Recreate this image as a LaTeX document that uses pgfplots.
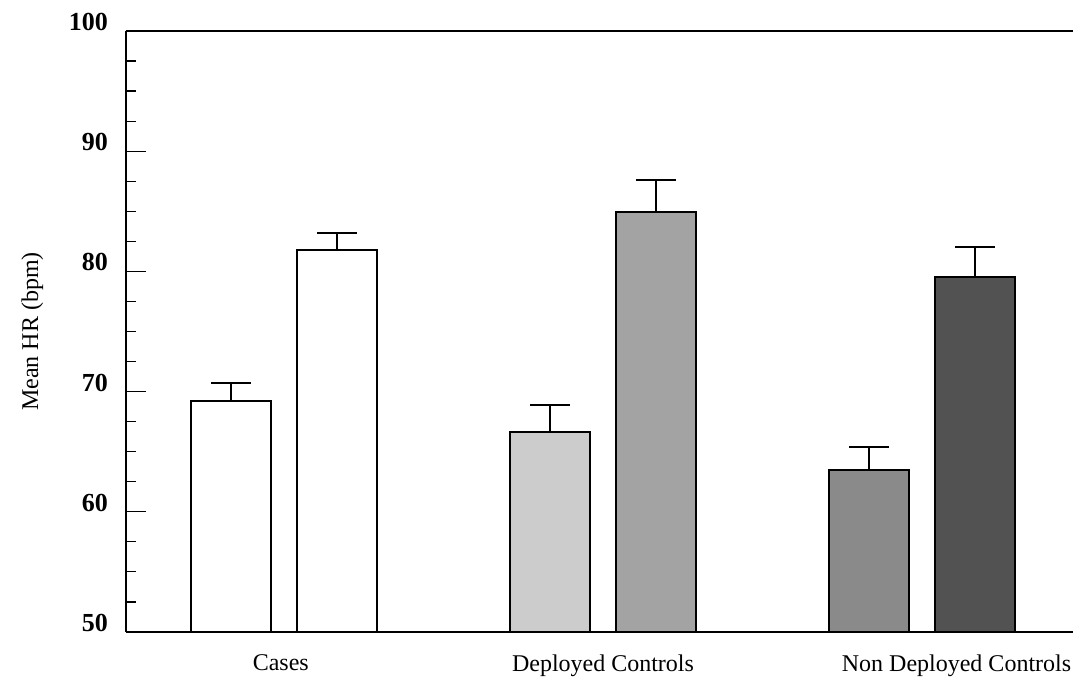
\documentclass[border=0pt]{standalone}
\usepackage{pgfplots}
\pgfplotsset{compat=1.18}
\usepackage{fontspec}
\setmainfont{Liberation Serif}
\definecolor{barA}{gray}{1.0}
\definecolor{barB}{gray}{0.80}
\definecolor{barC}{gray}{0.64}
\definecolor{barD}{gray}{0.54}
\definecolor{barE}{gray}{0.32}
\begin{document}
\begin{tikzpicture}
\begin{axis}[
  name=ax,
  scale only axis,
  width=473.5pt, height=300.5pt,
  xmin=-0.495, xmax=2.473,
  ymin=50, ymax=100,
  axis x line*=box,
  axis y line*=left,
  ytick={50,60,70,80,90,100},
  minor y tick num=3,
  ytick pos=left,
  tick align=inside,
  major tick length=10pt,
  minor tick length=5pt,
  every tick/.style={black, line width=0.6pt},
  xtick={-0.01,1,2.108},
  xticklabels={Cases,Deployed Controls,Non Deployed Controls},
  x tick style={draw=none},
  xticklabel style={font=\fontsize{12pt}{14pt}\selectfont, yshift=2pt},
  yticklabel style={font=\fontsize{13pt}{15pt}\selectfont\bfseries, yshift=4.5pt, xshift=-5.5pt},
  /pgf/number format/assume math mode=true,
  ylabel={Mean HR (bpm)},
  ylabel style={font=\fontsize{12pt}{14pt}\selectfont, yshift=6pt},
  axis line style={line width=0.8pt},
  ybar, bar width=40pt, bar shift=0pt,
  every axis plot/.append style={draw=black, line width=1pt},
  error bars/y dir=plus, error bars/y explicit,
  error bars/error bar style={line width=1pt, black},
  error bars/error mark options={rotate=90, mark size=10pt, line width=1pt, black},
  clip=false,
]
\addplot[fill=barA] coordinates {(-0.166,69.2) +- (0,1.5)};
\addplot[fill=barA] coordinates {(0.166,81.8) +- (0,1.4)};
\addplot[fill=barB] coordinates {(0.834,66.6) +- (0,2.3)};
\addplot[fill=barC] coordinates {(1.166,84.9) +- (0,2.7)};
\addplot[fill=barD] coordinates {(1.834,63.5) +- (0,1.9)};
\addplot[fill=barE] coordinates {(2.166,79.5) +- (0,2.5)};
\end{axis}
\pgfresetboundingbox
\useasboundingbox ([xshift=-63pt,yshift=-27pt]ax.south west) rectangle ([yshift=15.5pt]ax.north east);
\end{tikzpicture}
\end{document}
